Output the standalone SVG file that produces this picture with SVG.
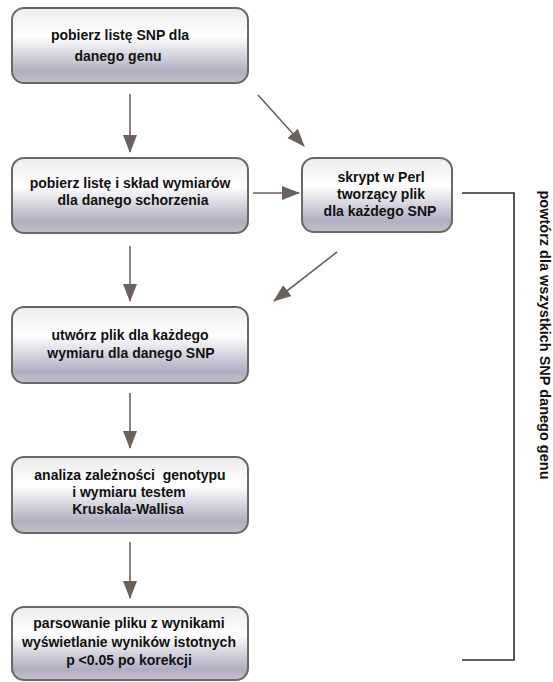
<svg xmlns="http://www.w3.org/2000/svg" width="553" height="682" viewBox="0 0 553 682">
  <defs>
    <linearGradient id="boxFill" x1="0" y1="0" x2="0" y2="1">
      <stop offset="0" stop-color="#ececec"/>
      <stop offset="0.38" stop-color="#ffffff"/>
      <stop offset="0.85" stop-color="#b0aec1"/>
      <stop offset="1" stop-color="#c4c1cc"/>
    </linearGradient>
    <marker id="head" viewBox="0 0 18 14" refX="17" refY="7" markerWidth="18" markerHeight="14" markerUnits="userSpaceOnUse" orient="auto">
      <path d="M0,0 L18,7 L0,14 Z" fill="#6b625e"/>
    </marker>
  </defs>
  <style>
    .box { fill: url(#boxFill); stroke: #6e6661; stroke-width: 2; }
    .lbl { font-family: "Liberation Sans", Arial, sans-serif; font-weight: bold; font-size: 14px; fill: #111; text-anchor: middle; }
    .side { font-size: 14.5px; }
    .arrow { stroke: #6b625e; stroke-width: 1.6; fill: none; marker-end: url(#head); }
    .loop { stroke: #2e2e2e; stroke-width: 1.6; fill: none; }
  </style>
  <rect width="553" height="682" fill="#ffffff"/>

  <g id="n1">
    <rect class="box" x="12" y="8" width="236" height="75" rx="12"/>
    <text class="lbl" x="120" y="40">pobierz listę SNP dla</text>
    <text class="lbl" x="118" y="61">danego genu</text>
  </g>

  <g id="n2">
    <rect class="box" x="12" y="158" width="236" height="75" rx="12"/>
    <text class="lbl" x="130" y="188">pobierz listę i skład wymiarów</text>
    <text class="lbl" x="133" y="205">dla danego schorzenia</text>
  </g>

  <g id="n3">
    <rect class="box" x="302" y="158" width="150" height="74" rx="12"/>
    <text class="lbl" x="381" y="182">skrypt w Perl</text>
    <text class="lbl" x="381" y="199">tworzący plik</text>
    <text class="lbl" x="380" y="216">dla każdego SNP</text>
  </g>

  <g id="n4">
    <rect class="box" x="12" y="307" width="236" height="76" rx="12"/>
    <text class="lbl" x="130" y="340">utwórz plik dla każdego</text>
    <text class="lbl" x="131" y="358">wymiaru dla danego SNP</text>
  </g>

  <g id="n5">
    <rect class="box" x="12" y="457" width="236" height="76" rx="12"/>
    <text class="lbl" x="130" y="480" xml:space="preserve">analiza zależności  genotypu</text>
    <text class="lbl" x="129" y="497">i wymiaru testem</text>
    <text class="lbl" x="128" y="514">Kruskala-Wallisa</text>
  </g>

  <g id="n6">
    <rect class="box" x="12" y="607" width="236" height="73" rx="12"/>
    <text class="lbl" x="129" y="628">parsowanie pliku z wynikami</text>
    <text class="lbl" x="129" y="647">wyświetlanie wyników istotnych</text>
    <text class="lbl" x="129" y="665">p &lt;0.05 po korekcji</text>
  </g>

  <g id="loop-label">
    <text class="lbl side" transform="translate(540,335) rotate(90)">powtórz dla wszystkich SNP danego genu</text>
  </g>

  <g id="connectors">
    <line class="arrow" x1="130" y1="94" x2="130" y2="152"/>
    <line class="arrow" x1="130" y1="246" x2="130" y2="301"/>
    <line class="arrow" x1="130" y1="393" x2="130" y2="448"/>
    <line class="arrow" x1="130" y1="542" x2="130" y2="598"/>
    <line class="arrow" x1="258" y1="95" x2="304" y2="146"/>
    <line class="arrow" x1="253" y1="193" x2="299" y2="193"/>
    <line class="arrow" x1="337" y1="252" x2="274" y2="301"/>
    <polyline class="loop" points="462,193 514,193 514,660 462,660"/>
  </g>
</svg>
